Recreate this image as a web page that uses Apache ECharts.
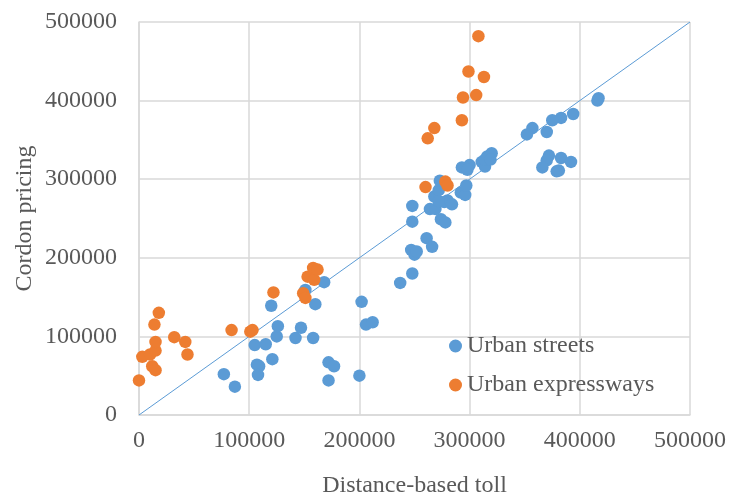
<!DOCTYPE html>
<html>
<head>
<meta charset="utf-8">
<script src="https://cdn.jsdelivr.net/npm/echarts@6/dist/echarts.min.js"></script>
<style>
html,body{margin:0;padding:0;background:#fff;}
#chart{width:730px;height:498px;}
</style>
</head>
<body>
<div id="chart"></div>
<script>
var seriesNames = ['Urban streets', 'Urban expressways'];
var xAxisTitle = 'Distance-based toll';
var yAxisTitle = 'Cordon pricing';
var axisMin = 0, axisMax = 500000, axisStep = 100000;

var urbanStreets = [
  [77000,52000],[87000,36000],[105000,89000],[115000,90000],[125000,100000],[126000,113000],
  [120000,139000],[107000,64000],[109000,62000],[108000,51000],[121000,71000],[142000,98000],
  [147000,111000],[158000,98000],[151000,159000],[160000,141000],[168000,169000],[172000,67000],
  [177000,62000],[172000,44000],[200000,50000],[202000,144000],[206000,115000],[212000,118000],
  [237000,168000],[248000,180000],[247000,210000],[250000,204000],[252000,208000],[261000,225000],
  [266000,214000],[248000,246000],[248000,266000],[274000,249000],[278000,245000],[264000,262000],
  [269000,262000],[268000,278000],[272000,286000],[280000,273000],[277000,271000],[272000,272000],
  [284000,268000],[273000,298000],[292000,283000],[296000,280000],[297000,292000],[293000,315000],
  [300000,318000],[298000,312000],[311000,322000],[316000,329000],[320000,333000],[314000,316000],
  [314000,325000],[319000,325000],
  [417000,403000],[416000,400000],[394000,383000],[383000,378000],[375000,375000],[370000,360000],
  [357000,365000],[352000,357000],[372000,330000],[370000,324000],[366000,315000],[383000,327000],
  [392000,322000],[379000,310000],[381000,311000]
];

var urbanExpressways = [
  [0,44000],[3000,74000],[10000,77000],[12000,62000],[15000,57000],[15000,82000],[15000,93000],
  [14000,115000],[18000,130000],[32000,99000],[42000,93000],[44000,77000],[84000,108000],
  [101000,106000],[103000,108000],[122000,156000],[149000,155000],[151000,149000],[153000,176000],
  [159000,172000],[158000,187000],[162000,185000],[260000,290000],[278000,297000],[280000,292000],
  [262000,352000],[268000,365000],[293000,375000],[294000,404000],[306000,407000],[299000,437000],
  [313000,430000],[308000,482000]
];

var diagonalLine = [[0,0],[500000,500000]];

var FONT = '"Liberation Serif","Times New Roman",serif';
var FS = 24;
var chart = echarts.init(document.getElementById('chart'), null, {renderer:'canvas'});
var axisCommon = {
  type: 'value', min: axisMin, max: axisMax, interval: axisStep,
  nameLocation: 'middle', nameMoveOverlap: false,
  nameTextStyle: {fontFamily: FONT, fontSize: FS, color: '#595959'},
  axisLine: {show: true, lineStyle: {color: '#d9d9d9', width: 1.5}},
  axisTick: {show: false},
  splitLine: {show: true, lineStyle: {color: '#d9d9d9', width: 1.5}}
};
function plain(v){ return String(v); }
chart.setOption({
  animation: false,
  backgroundColor: '#ffffff',
  grid: {left: 139, right: 40, top: 22, bottom: 83, containLabel: false, outerBoundsMode: 'none'},
  legend: {
    data: seriesNames.map(function(n){return {name: n, icon: 'circle'};}),
    orient: 'vertical', left: 444, top: 329, itemWidth: 13, itemHeight: 13, itemGap: 15,
    textStyle: {fontFamily: FONT, fontSize: FS, color: '#595959'}
  },
  xAxis: Object.assign({}, axisCommon, {name: xAxisTitle, nameGap: 59,
    axisLabel: {fontFamily: FONT, fontSize: FS, color: '#595959', margin: 14, formatter: plain}}),
  yAxis: Object.assign({}, axisCommon, {name: yAxisTitle, nameGap: 102,
    axisLabel: {fontFamily: FONT, fontSize: FS, color: '#595959', margin: 22, formatter: plain}}),
  series: [
    {name: 'diag', type: 'line', data: diagonalLine, symbol: 'none', silent: true,
     lineStyle: {color: '#5B9BD5', width: 1}, z: 1},
    {name: seriesNames[0], type: 'scatter', data: urbanStreets, symbolSize: 12.5,
     itemStyle: {color: '#5B9BD5', opacity: 1}, z: 2},
    {name: seriesNames[1], type: 'scatter', data: urbanExpressways, symbolSize: 12.5,
     itemStyle: {color: '#ED7D31', opacity: 1}, z: 3}
  ]
});
</script>
</body>
</html>
